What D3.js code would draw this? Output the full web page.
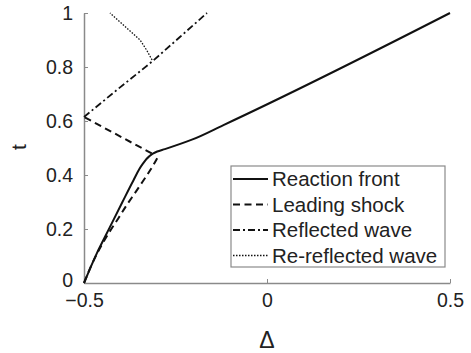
<!DOCTYPE html>
<html>
<meta charset="utf-8">
<style>
body { margin: 0; background: #fff; }
text { font-family: "Liberation Sans", Arial, sans-serif; fill: #222; }
</style>
<head>
<script src="https://d3js.org/d3.v7.min.js"></script>
</head>
<body>
<script>
// values: [delta, t]
var reactionFront = [[-0.5,0],[-0.465,0.11],[-0.43,0.205],[-0.395,0.3],[-0.365,0.38],[-0.34,0.44],
  [-0.322,0.469],[-0.312,0.479],[-0.3,0.487],[-0.279,0.496],[-0.207,0.53],[-0.119,0.585],[0.5,1]];
var leadingShock = [[-0.5,0],[-0.462,0.115],[-0.43,0.19],[-0.406,0.24],[-0.384,0.287],[-0.361,0.333],
  [-0.34,0.375],[-0.318,0.42],[-0.303,0.455],[-0.297,0.47]];
var shockToWall = [[-0.315,0.48],[-0.5,0.615]];
var reflectedWave = [[-0.5,0.615],[-0.411,0.714],[-0.314,0.82],[-0.238,0.911],[-0.164,1]];
var reReflectedWave = [[-0.314,0.826],[-0.329,0.863],[-0.347,0.9],[-0.383,0.944],[-0.429,1]];
var xTicks = [-0.5, 0, 0.5];
var yTicks = [0, 0.2, 0.4, 0.6, 0.8, 1];
var legendNames = ["Reaction front", "Leading shock", "Reflected wave", "Re-reflected wave"];

var W = 471, H = 353;
var x = d3.scaleLinear().domain([-0.5, 0.5]).range([84, 450]);
var y = d3.scaleLinear().domain([0, 1]).range([283, 13]);

var svg = d3.select("body").append("svg").attr("width", W).attr("height", H);

var axisColor = "#8a8a8a";
var xAxis = svg.append("g").attr("transform", "translate(0," + y(0) + ")")
  .call(d3.axisBottom(x).tickValues(xTicks).tickSizeInner(-4).tickSizeOuter(0).tickPadding(10)
    .tickFormat(function(d){ return d === 0 ? "0" : d3.format(".1f")(d); }));
var yAxis = svg.append("g").attr("transform", "translate(" + x(-0.5) + ",0)")
  .call(d3.axisLeft(y).tickValues(yTicks).tickSizeInner(-4).tickSizeOuter(0).tickPadding(11)
    .tickFormat(function(d){ return d === 0 || d === 1 ? String(d) : d3.format(".1f")(d); }));
[xAxis, yAxis].forEach(function(g){
  g.select(".domain").attr("stroke", axisColor).attr("stroke-width", 1.5);
  g.selectAll(".tick line").attr("stroke", axisColor);
  g.selectAll(".tick text").attr("font-size", 19.5).attr("fill", "#222")
    .attr("font-family", "Liberation Sans, Arial, sans-serif");
});
// the "0" of the t axis sits a little higher so it clears "-0.5"
yAxis.selectAll(".tick text").filter(function(d){ return d === 0; }).attr("dy", "0.2em");

svg.append("text").attr("x", x(0)).attr("y", 348).attr("text-anchor", "middle")
  .attr("font-size", 23).text("Δ");
svg.append("text").attr("transform", "translate(26,147) rotate(-90)")
  .attr("text-anchor", "middle").attr("font-size", 21).text("t");

var smooth = d3.line().curve(d3.curveMonotoneY)
  .x(function(d){ return x(d[0]); }).y(function(d){ return y(d[1]); });
var straight = d3.line().x(function(d){ return x(d[0]); }).y(function(d){ return y(d[1]); });
var styles = [
  {w: 2, dash: null},
  {w: 2, dash: "7,4.5"},
  {w: 1.8, dash: "7,3,2,3"},
  {w: 1.3, dash: "1.5,1.5"}
];
var series = [[reactionFront], [leadingShock, shockToWall], [reflectedWave], [reReflectedWave]];
var lineColor = "#111";
series.forEach(function(segs, i){
  segs.forEach(function(seg){
    svg.append("path").datum(seg).attr("d", i < 2 ? smooth : straight).attr("fill", "none")
      .attr("stroke", lineColor).attr("stroke-width", styles[i].w)
      .attr("stroke-dasharray", styles[i].dash);
  });
});

// legend
var lg = svg.append("g");
lg.append("rect").attr("x", 231).attr("y", 166).attr("width", 214).attr("height", 101)
  .attr("fill", "#fff").attr("stroke", axisColor).attr("stroke-width", 1.2);
legendNames.forEach(function(name, i){
  var cy = 179 + i * 25.5;
  lg.append("line").attr("x1", 233).attr("x2", 268).attr("y1", cy).attr("y2", cy)
    .attr("stroke", lineColor).attr("stroke-width", styles[i].w)
    .attr("stroke-dasharray", styles[i].dash);
  lg.append("text").attr("x", 272).attr("y", cy + 7).attr("font-size", 20.5).text(name);
});
</script>
</body>
</html>
